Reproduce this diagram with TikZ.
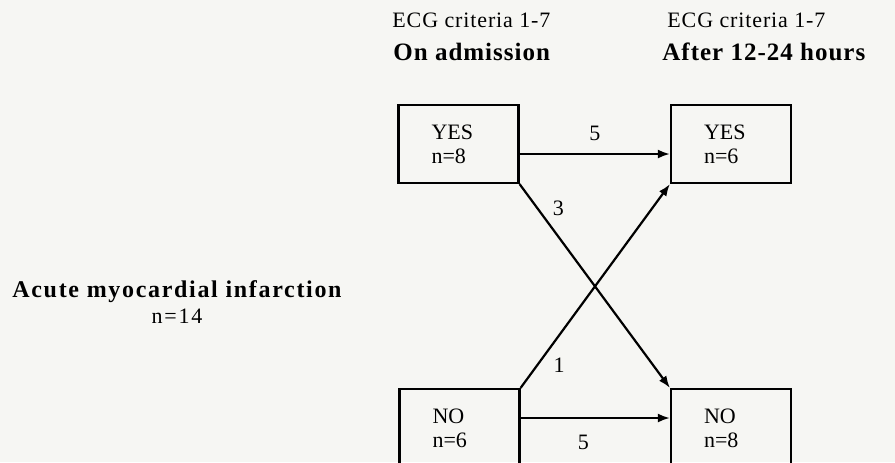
\documentclass[tikz,border=0pt]{standalone}
\usepackage{fontspec}
\setmainfont{Liberation Serif}
\newfontfamily\widefont[LetterSpace=4]{Liberation Serif}
\newfontfamily\headfont[LetterSpace=4]{Liberation Serif}
\newfontfamily\titlefont[LetterSpace=7]{Liberation Serif}
\newfontfamily\sumfont[LetterSpace=8]{Liberation Serif}
\usepackage{tikz}
\usetikzlibrary{arrows.meta,positioning}
\definecolor{paper}{RGB}{246,246,243}

\begin{document}
\begin{tikzpicture}[x=0.5pt,y=-0.5pt]
\tikzset{state/.style = {shape=rectangle,draw,line width=1.1pt,minimum width=60pt,minimum height=39pt,
  text width=27pt,inner xsep=16.5pt,align=left,font=\fontsize{11}{12}\selectfont}}
\tikzset{edge/.style = {-{Latex[length=6pt,width=4.5pt]},line width=1.1pt}}
\tikzset{count/.style = {font=\fontsize{11}{12}\selectfont,inner sep=1pt}}
\tikzset{crit/.style = {anchor=base west,inner sep=0pt,font=\widefont\fontsize{11}{12}\selectfont}}
\tikzset{when/.style = {anchor=base west,inner sep=0pt,font=\headfont\bfseries\fontsize{12.5}{14}\selectfont}}
\useasboundingbox (0,0) rectangle (895,462);
\fill[paper] (0,0) rectangle (895,462);
\clip (0,0) rectangle (895,462);
% headings
\node[crit] (critA) at (392,27) {ECG criteria 1-7};
\node[when] (whenA) at (393,60) {On admission};
\node[crit] (critB) at (667,27) {ECG criteria 1-7};
\node[when] (whenB) at (662,60) {After 12-24 hours};
\node[anchor=base west,inner sep=0pt,font=\titlefont\bfseries\fontsize{12}{13}\selectfont] (ami) at (12,297) {Acute myocardial infarction};
\node[below=3pt of ami,inner sep=0pt,font=\sumfont\fontsize{11}{12}\selectfont] (amin) {n=14};
% vertices
\node[state] (yesA) at (458.5,144) {YES\\n=8};
\node[state] (yesB) at (731,144) {YES\\n=6};
\node[state] (noA) at (459.5,428) {NO\\n=6};
\node[state] (noB) at (731,428) {NO\\n=8};
%edges
\draw[edge] ([yshift=-5pt]yesA.east) to node[count,above=5pt] {5} ([yshift=-5pt]yesB.west);
\draw[edge] (yesA.south east) to node[count,pos=0.2,above right,yshift=3pt] {3} (noB.north west);
\draw[edge] (noA.north east) to node[count,pos=0.2,below right,yshift=-4pt] {1} (yesB.south west);
\draw[edge] ([yshift=5pt]noA.east) to node[count,pos=0.42,below=7pt] {5} ([yshift=5pt]noB.west);
\end{tikzpicture}
\end{document}
